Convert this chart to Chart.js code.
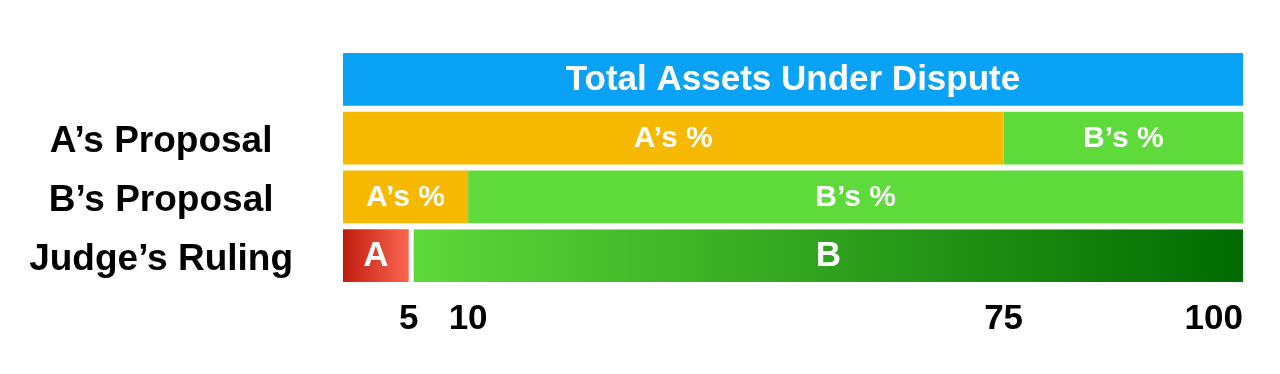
<!DOCTYPE html>
<html lang="en">
<head>
    <meta charset="UTF-8">
    <title>Asset Division Proposals</title>
    <style>
        body { margin: 0; padding: 0; background: #fff; }
        .wrap { width: 1280px; height: 374px; position: relative; }
    </style>
    <script src="https://cdn.jsdelivr.net/npm/chart.js@4/dist/chart.umd.min.js"></script>
</head>
<body>
    <div class="wrap"><canvas id="disputeChart"></canvas></div>

    <script>
        // rows, top to bottom (first row is the whole pot, no label)
        const categories = ['', 'A\u2019s Proposal', 'B\u2019s Proposal', 'Judge\u2019s Ruling'];
        const totalShare = [100, null, null, null];
        const aShare = [null, 73.4, 13.9, 7.3];
        const bShare = [null, 26.6, 86.1, 92.7];

        const totalLabels = ['Total Assets Under Dispute', '', '', ''];
        const aLabels = ['', 'A\u2019s %', 'A\u2019s %', 'A'];
        const bLabels = ['', 'B\u2019s %', 'B\u2019s %', 'B'];

        // x axis: tick positions sit on the bar boundaries
        const tickValues = [0, 7.3, 13.9, 73.4, 100];
        const tickLabels = ['', '5', '10', '75', '100'];

        const FONT = '"Liberation Sans", Arial, sans-serif';

        function judgeGradient(ctx, from, to, c1, c2, fallback) {
            const chart = ctx.chart;
            if (!chart.chartArea || !chart.scales.x) return fallback;
            const x = chart.scales.x;
            const g = chart.ctx.createLinearGradient(x.getPixelForValue(from), 0, x.getPixelForValue(to), 0);
            g.addColorStop(0, c1);
            g.addColorStop(1, c2);
            return g;
        }

        // white text centered inside each bar segment
        const barLabels = {
            id: 'barLabels',
            afterDatasetsDraw(chart) {
                const ctx = chart.ctx;
                const sets = [totalLabels, aLabels, bLabels];
                ctx.save();
                ctx.fillStyle = '#fff';
                ctx.textAlign = 'center';
                ctx.textBaseline = 'middle';
                sets.forEach((labels, di) => {
                    const meta = chart.getDatasetMeta(di);
                    meta.data.forEach((el, i) => {
                        if (!labels[i]) return;
                        let size = 30;
                        if (i === 0) size = 35;
                        if (i === 3) size = 35;
                        let left = el.base;
                        if (di === 2 && i === 3) left += 5;
                        ctx.font = 'bold ' + size + 'px ' + FONT;
                        ctx.fillText(labels[i], (left + el.x) / 2, el.y + 1);
                    });
                });
                ctx.restore();
            }
        };

        new Chart(document.getElementById('disputeChart'), {
            type: 'bar',
            data: {
                labels: categories,
                datasets: [
                    {
                        label: 'Total',
                        data: totalShare,
                        backgroundColor: '#0aa2f6'
                    },
                    {
                        label: 'A',
                        data: aShare,
                        backgroundColor: ctx => ctx.dataIndex === 3
                            ? judgeGradient(ctx, 0, 7.3, '#c01d0e', '#fb6651', '#e04030')
                            : '#f6b900'
                    },
                    {
                        label: 'B',
                        data: bShare,
                        borderColor: '#fff',
                        borderSkipped: false,
                        borderWidth: ctx => ctx.dataIndex === 3
                            ? { left: 5, right: 0, top: 0, bottom: 0 } : 0,
                        backgroundColor: ctx => ctx.dataIndex === 3
                            ? judgeGradient(ctx, 7.3, 100, '#5ed93b', '#006b00', '#30a020')
                            : '#5fda3b'
                    }
                ]
            },
            options: {
                indexAxis: 'y',
                responsive: true,
                maintainAspectRatio: false,
                animation: false,
                barPercentage: 0.9,
                categoryPercentage: 1,
                layout: { padding: { top: 50, right: 37, left: 0, bottom: 0 } },
                plugins: {
                    legend: { display: false },
                    tooltip: { enabled: false }
                },
                scales: {
                    x: {
                        stacked: true,
                        min: 0,
                        max: 100,
                        border: { display: false },
                        grid: { display: false, drawTicks: false },
                        afterBuildTicks: axis => {
                            axis.ticks = tickValues.map(v => ({ value: v }));
                        },
                        afterFit: axis => { axis.height = 89; },
                        ticks: {
                            autoSkip: false,
                            maxRotation: 0,
                            align: 'inner',
                            padding: 13,
                            color: '#000',
                            font: { family: FONT, size: 35, weight: 'bold' },
                            callback: (value, index) => tickLabels[index]
                        }
                    },
                    y: {
                        stacked: true,
                        border: { display: false },
                        grid: { display: false, drawTicks: false },
                        afterFit: axis => {
                            axis.width = 343;
                            // the big label padding is only meant horizontally
                            axis.paddingTop = 0;
                            axis.paddingBottom = 0;
                        },
                        ticks: {
                            crossAlign: 'center',
                            padding: 50,
                            labelOffset: 4,
                            color: '#000',
                            font: { family: FONT, size: 37, weight: 'bold' }
                        }
                    }
                }
            },
            plugins: [barLabels]
        });
    </script>
</body>
</html>
